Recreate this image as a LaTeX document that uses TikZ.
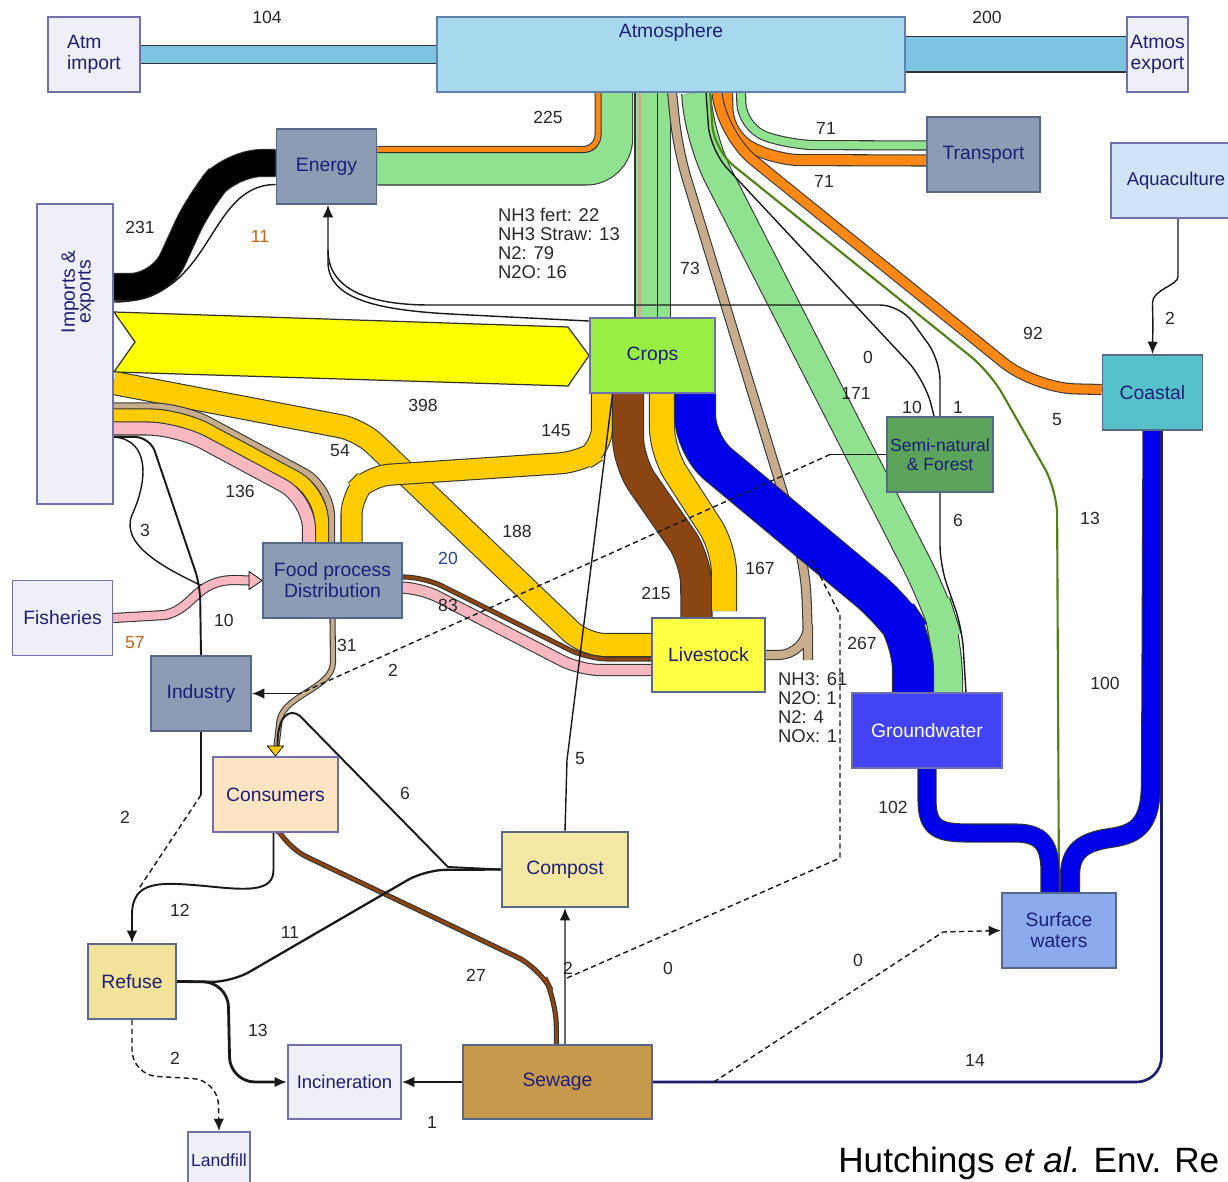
\documentclass[tikz,border=0pt]{standalone}
\usepackage{fontspec}
\setmainfont{Liberation Sans}
\usetikzlibrary{calc,arrows.meta}

% colours
\definecolor{lavfill}{RGB}{239,239,250}
\definecolor{lavline}{RGB}{112,112,176}
\definecolor{slatefill}{RGB}{141,155,181}
\definecolor{slateline}{RGB}{88,104,138}
\definecolor{atmfill}{RGB}{167,216,238}
\definecolor{atmline}{RGB}{96,128,176}
\definecolor{aqfill}{RGB}{208,227,247}
\definecolor{cropfill}{RGB}{153,238,68}
\definecolor{semifill}{RGB}{92,163,92}
\definecolor{coastfill}{RGB}{84,194,200}
\definecolor{livefill}{RGB}{255,255,68}
\definecolor{gwfill}{RGB}{66,66,246}
\definecolor{consfill}{RGB}{253,229,196}
\definecolor{compfill}{RGB}{243,231,163}
\definecolor{swfill}{RGB}{140,171,238}
\definecolor{refill}{RGB}{242,227,154}
\definecolor{sewfill}{RGB}{198,153,76}
\definecolor{nodetxt}{RGB}{30,30,120}
\definecolor{numtxt}{RGB}{40,40,40}
\definecolor{orgtxt}{RGB}{200,100,20}
\definecolor{blutxt}{RGB}{40,70,150}
\definecolor{skyband}{RGB}{124,196,223}
\definecolor{grnband}{RGB}{144,226,144}
\definecolor{orgband}{RGB}{255,136,20}
\definecolor{yelband}{RGB}{255,255,0}
\definecolor{goldband}{RGB}{255,204,0}
\definecolor{brnband}{RGB}{139,69,19}
\definecolor{bluband}{RGB}{0,0,235}
\definecolor{pnkband}{RGB}{248,184,192}
\definecolor{tanband}{RGB}{200,173,140}
\definecolor{olvline}{RGB}{80,130,20}
\definecolor{navyline}{RGB}{30,30,110}

\newcommand\boxfont{\fontsize{11}{12}\selectfont}
\newcommand\numfont{\fontsize{10}{11}\selectfont}

\pgfdeclarelayer{flows}
\pgfsetlayers{flows,main}

\tikzset{
  blk/.style={draw=lavline, line width=1.1pt, minimum width=2cm, minimum height=1.5cm,
    inner sep=2pt, align=center, text=nodetxt, font=\boxfont},
  lav/.style={blk, fill=lavfill},
  slate/.style={blk, fill=slatefill, draw=slateline},
  num/.style={text=numtxt, font=\numfont, inner sep=1pt},
  band/.style={line width=#1*0.02cm, preaction={draw=black!80, line width=#1*0.02cm+1.2pt}},
  thinflow/.style={draw=black!90, line width=0.8pt},
  tip/.style={-{Latex[length=7pt,width=6pt]}},
}

\begin{document}
\begin{tikzpicture}[x=0.02cm, y=-0.02cm]
  \useasboundingbox (0,0) rectangle (1228,1182);

  % boxes
  \node[lav, minimum width=1.84cm, align=left] (atmimp) at (94,54.5) {Atm\\import};
  \node[blk, fill=atmfill, draw=atmline, minimum width=9.36cm] (atmos) at (671,54.5) {};
  \node[text=nodetxt, font=\boxfont] (atmtxt) at ($(atmos.north)+(0,16)$) {Atmosphere};
  \node[lav, minimum width=1.22cm, inner sep=1pt] (atmexp) at (1157.5,54.5) {Atmos\\export};
  \node[slate] (energy) at (326.5,166.5) {Energy};
  \node[slate, minimum width=2.26cm] (transport) at (983.5,154.5) {Transport};
  \node[blk, fill=aqfill, minimum width=2.6cm, inner sep=1pt, font=\fontsize{10.5}{12}\selectfont] (aqua) at (1176,180.5) {Aquaculture};
  \node[lav, minimum width=1.52cm, minimum height=6cm] (impexp) at (75,354) {};
  \node[rotate=90, text=nodetxt, font=\boxfont, align=center] (imptxt) at (78,292) {Imports \&\\[-3pt]exports};
  \node[blk, fill=cropfill, minimum width=2.5cm] (crops) at (652.5,355.5) {Crops};
  \node[blk, fill=semifill, draw=slateline, font=\fontsize{10}{11}\selectfont] (semi) at (940,454.5) {Semi-natural\\\& Forest};
  \node[blk, fill=coastfill, draw=slateline] (coastal) at (1152.5,392.5) {Coastal};
  \node[lav] (fish) at (62.5,618) {Fisheries};
  \node[slate, minimum width=2.78cm] (food) at (332.5,580.5) {Food process\\Distribution};
  \node[slate] (industry) at (201,693.5) {Industry};
  \node[blk, fill=livefill, draw=slateline, minimum width=2.26cm, minimum height=1.48cm] (livestock) at (708.5,655) {Livestock};
  \node[blk, fill=gwfill, minimum width=3cm, text=white] (ground) at (927,730.5) {Groundwater};
  \node[blk, fill=consfill, minimum width=2.5cm] (consumers) at (275.5,794.5) {Consumers};
  \node[blk, fill=compfill, draw=slateline, minimum width=2.52cm] (compost) at (565,869.5) {Compost};
  \node[blk, fill=swfill, draw=slateline, minimum width=2.28cm] (surface) at (1059,930.5) {Surface\\waters};
  \node[blk, fill=refill, draw=slateline, minimum width=1.76cm] (refuse) at (132,981.5) {Refuse};
  \node[lav, minimum width=2.26cm, minimum height=1.48cm, inner sep=1pt, font=\fontsize{10.5}{12}\selectfont] (incin) at (344.5,1082) {Incineration};
  \node[blk, fill=sewfill, draw=slateline, minimum width=3.78cm, minimum height=1.48cm] (sewage) at (557.5,1082) {Sewage};
  \node[lav, minimum width=1.24cm, minimum height=1.12cm, inner sep=0pt, font=\fontsize{10}{11}\selectfont] (landfill) at (219,1160) {Landfill};

  % flow values
  \node[num] (v104) at (267,17) {104};
  \node[num] (v200) at (987,17) {200};
  \node[num] (v225) at (548,117) {225};
  \node[num] (v71a) at (826,128) {71};
  \node[num] (v71b) at (824,181) {71};
  \node[num] (v231) at (140,227) {231};
  \node[num, text=orgtxt] (v11a) at (260,236) {11};
  \node[num, anchor=north west, align=left, font=\fontsize{10.5}{10.8}\selectfont] (nh3crop) at (496,206) {NH3 fert: 22\\NH3 Straw: 13\\N2: 79\\N2O: 16};
  \node[num] (v73) at (690,268) {73};
  \node[num] (v92) at (1033,333) {92};
  \node[num] (v2aq) at (1170,318) {2};
  \node[num] (v0a) at (868,357) {0};
  \node[num] (v171) at (856,393) {171};
  \node[num] (v10a) at (912,407) {10};
  \node[num] (v1a) at (958,407) {1};
  \node[num] (v5a) at (1057,420) {5};
  \node[num] (v398) at (423,405) {398};
  \node[num] (v145) at (556,431) {145};
  \node[num] (v54) at (340,451) {54};
  \node[num] (v136) at (240,491) {136};
  \node[num] (v6a) at (958,520) {6};
  \node[num] (v13a) at (1090,518) {13};
  \node[num] (v188) at (517,531) {188};
  \node[num] (v3) at (145,530) {3};
  \node[num, text=blutxt] (v20) at (448,558) {20};
  \node[num] (v167) at (760,568) {167};
  \node[num] (v215) at (656,593) {215};
  \node[num] (v83) at (448,605) {83};
  \node[num] (v10b) at (224,620) {10};
  \node[num, text=orgtxt] (v57) at (135,643) {57};
  \node[num] (v31) at (347,645) {31};
  \node[num] (v267) at (862,643) {267};
  \node[num] (v2a) at (393,670) {2};
  \node[num, anchor=north west, align=left, font=\fontsize{10.5}{10.8}\selectfont] (nh3live) at (776,671) {NH3: 61\\N2O: 1\\N2: 4\\NOx: 1};
  \node[num] (v100) at (1105,683) {100};
  \node[num] (v5b) at (580,759) {5};
  \node[num] (v6b) at (405,793) {6};
  \node[num] (v102) at (893,807) {102};
  \node[num] (v2b) at (125,817) {2};
  \node[num] (v12) at (180,910) {12};
  \node[num] (v11b) at (290,932) {11};
  \node[num] (v0b) at (858,960) {0};
  \node[num] (v27) at (476,975) {27};
  \node[num] (v2c) at (568,968) {2};
  \node[num] (v0c) at (668,968) {0};
  \node[num] (v13b) at (258,1030) {13};
  \node[num] (v2d) at (175,1058) {2};
  \node[num] (v14) at (975,1060) {14};
  \node[num] (v1b) at (432,1122) {1};
  \node[anchor=west, font=\fontsize{20}{24}\selectfont, inner sep=0pt] (cite) at (838,1163) {Hutchings \textit{et al.} Env. Re};

  \begin{pgfonlayer}{flows}
  \fill[white] (0,0) rectangle (1228,1182);
  % atmosphere in and out
  \draw[band=17, draw=skyband] (atmimp.east) -- (atmos.west);
  \draw[band=34, draw=skyband] (atmos.east) -- (atmexp.west);
  % energy and transport
  \draw[band=32, draw=grnband, rounded corners=0.6cm] ($(energy.east)+(0,2)$) -| ($(atmos.south west)+(180,0)$);
  \draw[band=5, draw=orgband, rounded corners=0.3cm] ($(energy.east)+(0,-17)$) -| ($(atmos.south west)+(162,0)$);
  \draw[band=8, draw=grnband, rounded corners=0.5cm] ($(atmos.south west)+(305,0)$) -- (742,128) -- (790,145) -- ($(transport.west)+(0,-9)$);
  \draw[band=10, draw=orgband, rounded corners=0.5cm] ($(atmos.south west)+(291,0)$) -- (728,135) -- (775,160) -- ($(transport.west)+(0,6)$);
  % crops to air
  \draw[band=34, draw=grnband] (crops.north) -- (crops.north |- atmos.south);
  \draw[draw=tanband, line width=3*0.02cm] ($(crops.north)+(-13,0)$) -- ++(0,-226);
  \draw[red!60!black, line width=0.9pt] ($(crops.north)+(5,0)$) -- ++(0,-226);
  % livestock to air
  \draw[band=8, draw=tanband, rounded corners=0.6cm] (livestock.east) -- (808,655) -- (808,630) -- (805,565) -- (678,150) -- ($(atmos.south west)+(236,0)$);
  % air to groundwater
  \draw[band=28, draw=grnband, rounded corners=0.8cm] ($(atmos.south west)+(260,0)$) -- (700,140) -- (935,600) -- (948,640) -- ($(ground.north)+(21,0)$);
  % thin lines from air
  \draw[thinflow, rounded corners=0.5cm] ($(atmos.south west)+(270,0)$) -- (710,150) -- (925,380) -- ($(semi.north)+(-6,0)$);
  \draw[draw=olvline, line width=1.2pt, rounded corners=0.5cm] ($(atmos.south west)+(274,0)$) -- (714,150) -- (990,372) -- (1057,490) -- (surface.north);
  \draw[band=9, draw=orgband, rounded corners=0.8cm] ($(atmos.south west)+(281,0)$) -- (722,135) -- (1035,388) -- ($(coastal.west)+(0,-3)$);
  % energy inputs
  \draw[band=26, draw=black, rounded corners=0.6cm] ($(impexp.east)+(0,-67)$) -- (160,287) -- (200,200) -- (232,163) -- ($(energy.west)+(0,-3.5)$);
  \draw[thinflow] ($(impexp.east)+(0,-52)$) .. controls (215,302) and (205,185) .. ($(energy.west)+(0,18)$);
  \draw[thinflow, tip] ($(crops.north west)+(0,4)$) -- (450,314) .. controls (380,310) and (328,300) .. (328,262) -- ($(energy.south)+(1.5,0)$);
  \draw[thinflow, rounded corners=0.4cm] (semi.north) -- (940,360) -- (900,305) -- (450,305) .. controls (370,305) and (328,290) .. (328,250);
  % imports to crops
  \filldraw[fill=yelband, draw=black!80, line width=0.7pt] ($(impexp.east)+(0,-42)$) -- (568,327) -- (crops.west) -- (568,386) -- ($(impexp.east)+(0,18)$) -- (135,342) -- cycle;
  % imports to livestock
  \draw[band=22, draw=goldband, rounded corners=0.4cm] ($(impexp.east)+(0,29)$) -- (360,430) -- (585,645) -- ($(livestock.west)+(0,-10)$);
  % imports to food processing
  \draw[band=6, draw=tanband, rounded corners=0.6cm] ($(impexp.east)+(0,52.5)$) -- (182.5,406.5) -- (331,486.3) -- ($(food.north)+(-1.5,0)$);
  \draw[band=13, draw=goldband, rounded corners=0.6cm] ($(impexp.east)+(0,62)$) -- (180,416) -- (321.5,492) -- ($(food.north)+(-11,0)$);
  \draw[band=12, draw=pnkband, rounded corners=0.6cm] ($(impexp.east)+(0,74.5)$) -- (177,428.5) -- (309,499.4) -- ($(food.north)+(-23.5,0)$);
  % crops outputs
  \draw[band=20, draw=goldband, rounded corners=0.4cm] ($(crops.south)+(-50.5,0)$) -- (602,448) -- (580,462) -- (370,476) -- (351.5,495) -- ($(food.north)+(19,0)$);
  \draw[band=30, draw=brnband, rounded corners=0.5cm] ($(crops.south)+(-24.5,0)$) -- (628,462) -- (696,560) -- ($(livestock.north)+(-12,0)$);
  \draw[band=24, draw=goldband, rounded corners=0.5cm] ($(crops.south)+(9.5,0)$) -- (662,452) -- (724,548) -- ($(livestock.north)+(15.5,-6)$);
  \draw[band=40, draw=bluband, rounded corners=0.6cm] ($(crops.south)+(42.5,0)$) -- (695,445) -- (893,610) -- (913,640) -- ($(ground.north)+(-14,0)$);
  % food processing outputs
  \draw[band=3, draw=brnband, rounded corners=0.4cm] ($(food.east)+(0,-3.5)$) -- (424,577) -- (588,659) -- ($(livestock.west)+(0,4)$);
  \draw[band=10, draw=pnkband, rounded corners=0.4cm] ($(food.east)+(0,7)$) -- (420,587.5) -- (580,670) -- ($(livestock.west)+(0,15)$);
  \draw[band=4, draw=tanband] (food.south) -- (333,662) .. controls (333,690) and (279,695) .. (279,725) -- ($(consumers.north)+(1,-10)$);
  \filldraw[fill=goldband, draw=black] ($(consumers.north)+(-8,-10)$) -- ($(consumers.north)+(8,-10)$) -- (consumers.north) -- cycle;
  % fisheries and small imports
  \draw[thinflow] ($(impexp.east)+(0,83)$) .. controls (150,440) and (148,480) .. (132,515) .. controls (120,545) and (165,568) .. (200,585) -- (food.west);
  \draw[band=8, draw=pnkband] (fish.east) -- (165,615) .. controls (195,608) and (195,580) .. (235,580) -- ($(food.west)+(-12,0)$);
  \filldraw[fill=pnkband, draw=black] ($(food.west)+(-13,-9)$) -- (food.west) -- ($(food.west)+(-13,9)$) -- cycle;
  \draw[thinflow, line width=1.1pt, rounded corners=0.3cm] ($(impexp.east)+(0,83)$) -- (150,437) -- (200,585) -- (industry.north);
  % semi-natural
  \draw[thinflow] (semi.west) -- (830,454.5);
  \draw[thinflow, densely dashed] (830,454.5) -- (300,693.5);
  \draw[thinflow, tip] (300,693.5) -- (industry.east);
  \draw[thinflow, rounded corners=0.4cm] (semi.south) -- (940,565) -- (962,628) -- ($(ground.north east)+(-37,0)$);
  % water
  \draw[band=17, draw=bluband] (ground.south) -- (927,800) .. controls (927,830) and (940,833) .. (970,833) -- (1015,833) .. controls (1042,833) and (1050,845) .. (1050,872) -- ($(surface.north)+(-9,0)$);
  \draw[band=18, draw=bluband] (coastal.south) -- (1151,780) .. controls (1151,822) and (1140,834) .. (1110,838) .. controls (1082,842) and (1070,852) .. (1070,876) -- ($(surface.north)+(11,0)$);
  \draw[draw=navyline, line width=1.5pt, rounded corners=0.5cm] (sewage.east) -| ($(coastal.south)+(9,0)$);
  \draw[thinflow, densely dashed, tip] ($(sewage.east)+(61,0)$) -- (943,932) -- (surface.west);
  \draw[thinflow, tip, rounded corners=0.3cm] ($(aqua.south)+(2,0)$) -- (1178,262) .. controls (1178,285) and (1152,290) .. (1153,318) -- (coastal.north);
  % waste
  \draw[thinflow] (compost.north) -- (567,760) -- ($(crops.south)+(-40,0)$);
  \draw[thinflow, tip] ($(sewage.north)+(7.5,0)$) -- (compost.south);
  \draw[thinflow, densely dashed] (567,978) -- (840,858) -- (840,615) -- (812,560);
  \draw[band=3, draw=brnband, rounded corners=0.5cm] ($(consumers.south)+(3,0)$) -- (284,846) -- (540,968) -- (556,1000) -- ($(sewage.north)+(-1,0)$);
  \draw[thinflow, line width=1.1pt, tip] ($(consumers.south)+(-2,0)$) -- (273.5,870) .. controls (273.5,893) and (245,890) .. (205,886) .. controls (160,882) and (132,880) .. (132,915) -- (refuse.north);
  \draw[thinflow] (industry.south) -- (201,795);
  \draw[thinflow, densely dashed] (201,795) -- (138,890);
  \draw[thinflow, line width=1.1pt] (compost.west) -- (448,867) -- (300,716) .. controls (290,708) and (277,715) .. ($(consumers.north)+(2,-10)$);
  \draw[thinflow, line width=1.3pt, rounded corners=0.4cm] (refuse.east) -- (232,982) -- (425,870) -- (compost.west);
  \draw[thinflow, line width=1.6pt, tip, rounded corners=0.5cm] (refuse.east) -- (228,982) -- (230,1082) -- (incin.west);
  \draw[thinflow, densely dashed, tip, rounded corners=0.5cm] (refuse.south) -- (132,1075) -- (218,1080) -- (landfill.north);
  \draw[thinflow, tip] (sewage.west) -- (incin.east);
  \end{pgfonlayer}
\end{tikzpicture}
\end{document}
